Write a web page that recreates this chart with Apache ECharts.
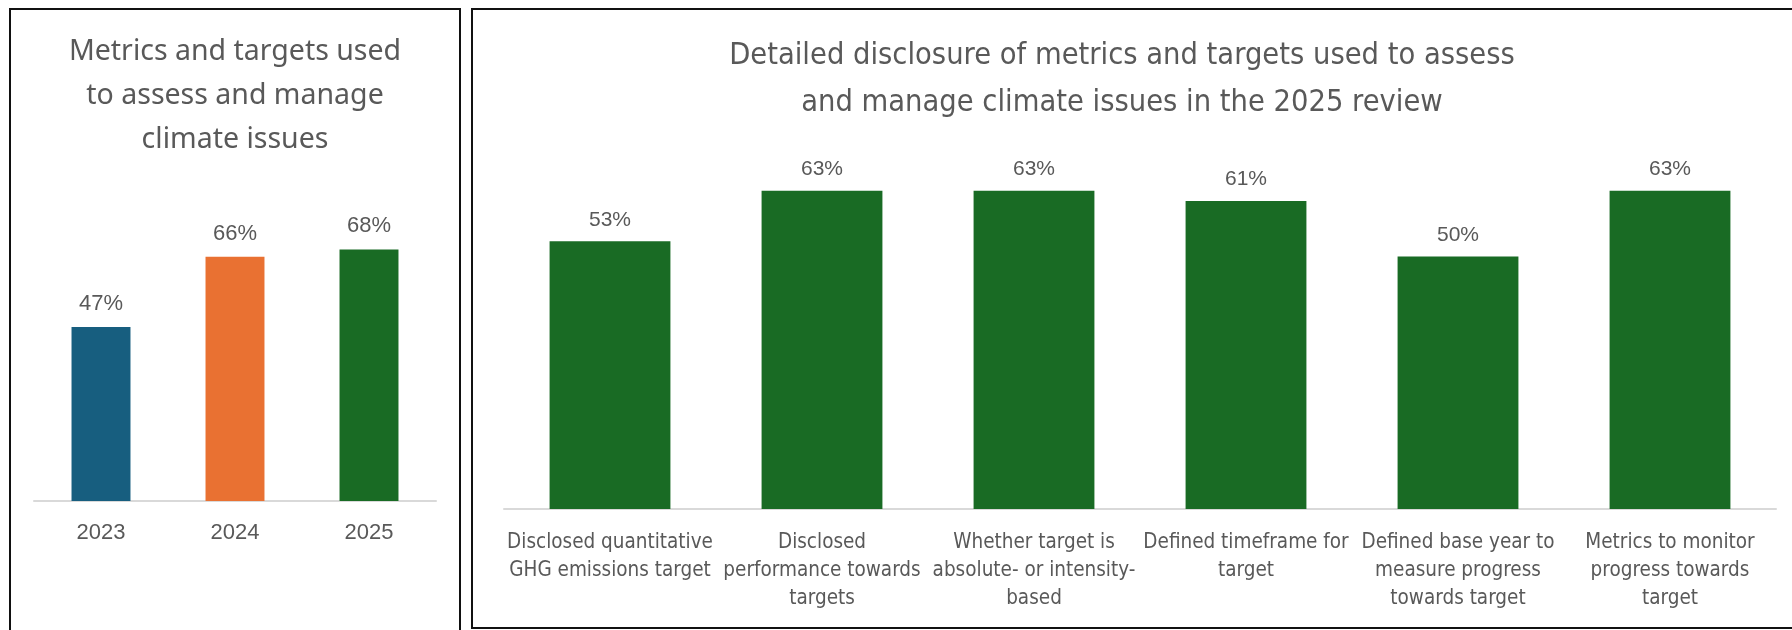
<!DOCTYPE html>
<html>
<head>
<meta charset="utf-8">
<script src="https://cdn.jsdelivr.net/npm/echarts@6/dist/echarts.min.js"></script>
<style>
  html, body { margin: 0; padding: 0; background: #fff; }
  #main { position: absolute; left: 0; top: 0; width: 1792px; height: 630px; }
  .box { position: absolute; border: 2px solid #111; box-sizing: border-box; }
</style>
</head>
<body>
<div class="box" style="left:9px; top:8px; width:452px; height:640px;"></div>
<div class="box" style="left:471px; top:8px; width:1340px; height:621px;"></div>
<div id="main"></div>
<script>
// 左图：三年对比
const years = ['2023', '2024', '2025'];
const yearValues = [47, 66, 68];
const yearColors = ['#175E7F', '#E97132', '#196B24'];

// 右图：2025年细项
const detailNames = [
  'Disclosed quantitative\nGHG emissions target',
  'Disclosed\nperformance towards\ntargets',
  'Whether target is\nabsolute- or intensity-\nbased',
  'Defined timeframe for\ntarget',
  'Defined base year to\nmeasure progress\ntowards target',
  'Metrics to monitor\nprogress towards\ntarget'
];
const detailValues = [53, 63, 63, 61, 50, 63];

const gray = '#595959';
const regular = "'Liberation Sans', Arial, sans-serif";
const titleFont = "'Noto Sans', 'Liberation Sans', sans-serif";
const narrow = "'Liberation Sans Narrow', 'DejaVu Sans Condensed', 'Liberation Sans', sans-serif";

const myChart = echarts.init(document.querySelector('#main'));

const option = {
  animation: false,
  title: [
    {
      text: 'Metrics and targets used\nto assess and manage\nclimate issues',
      left: 235,
      top: 30,
      textAlign: 'center',
      padding: 0,
      textStyle: { color: gray, fontSize: 28.5, fontWeight: 'normal', fontFamily: titleFont, lineHeight: 44 }
    },
    {
      text: 'Detailed disclosure of metrics and targets used to assess\nand manage climate issues in the 2025 review',
      left: 1122,
      top: 33,
      textAlign: 'center',
      padding: 0,
      textStyle: { color: gray, fontSize: 30.5, fontWeight: 'normal', fontFamily: narrow, lineHeight: 47 }
    }
  ],
  grid: [
    { left: 34, width: 402, top: 131, bottom: 129 },
    { left: 504, width: 1272, top: 4, bottom: 121 }
  ],
  xAxis: [
    {
      type: 'category',
      gridIndex: 0,
      data: years,
      axisLine: { lineStyle: { color: '#D9D9D9', width: 2 } },
      axisTick: { show: false },
      axisLabel: { color: gray, fontSize: 22, fontFamily: regular, margin: 21 }
    },
    {
      type: 'category',
      gridIndex: 1,
      data: detailNames,
      axisLine: { lineStyle: { color: '#D9D9D9', width: 2 } },
      axisTick: { show: false },
      axisLabel: { color: gray, fontSize: 20.5, fontFamily: narrow, lineHeight: 28, margin: 20, interval: 0 }
    }
  ],
  yAxis: [
    { type: 'value', gridIndex: 0, min: 0, max: 100, show: false },
    { type: 'value', gridIndex: 1, min: 0, max: 100, show: false }
  ],
  series: [
    {
      type: 'bar',
      xAxisIndex: 0,
      yAxisIndex: 0,
      barCategoryGap: '56%',
      data: yearValues.map((v, i) => ({ value: v, itemStyle: { color: yearColors[i] } })),
      label: {
        show: true,
        position: 'top',
        distance: 12,
        formatter: '{c}%',
        color: gray,
        fontSize: 22,
        fontFamily: regular
      }
    },
    {
      type: 'bar',
      xAxisIndex: 1,
      yAxisIndex: 1,
      barCategoryGap: '43%',
      itemStyle: { color: '#196B24' },
      data: detailValues,
      label: {
        show: true,
        position: 'top',
        distance: 11,
        formatter: '{c}%',
        color: gray,
        fontSize: 21,
        fontFamily: regular
      }
    }
  ]
};

myChart.setOption(option);
</script>
</body>
</html>
